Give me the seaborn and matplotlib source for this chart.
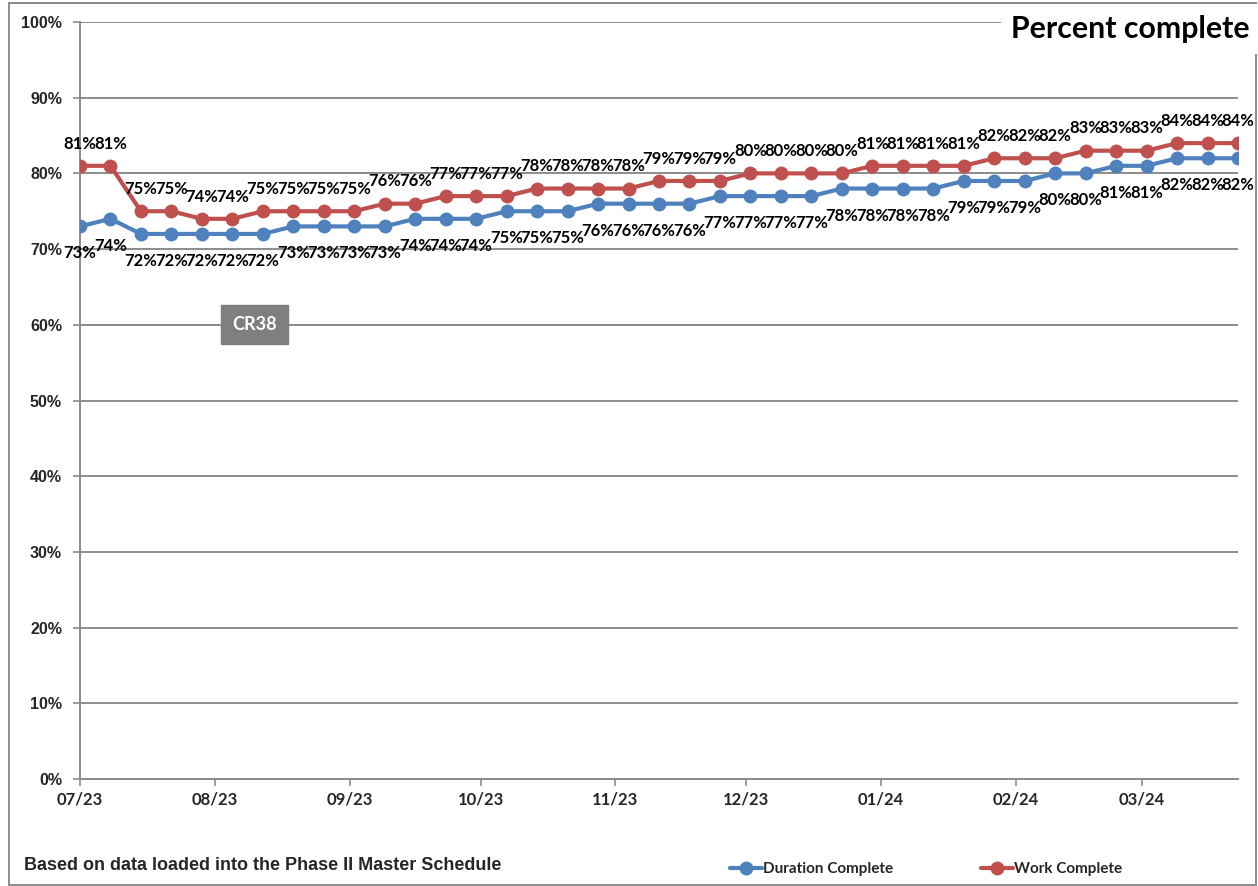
import matplotlib
matplotlib.use("Agg")
import matplotlib.pyplot as plt
import matplotlib.dates as mdates
from matplotlib.patches import Rectangle
from matplotlib.lines import Line2D
import numpy as np
import pandas as pd
import seaborn as sns

# Weekly status snapshots
start_date = "2023-07-01"
n_weeks = 39
duration_complete = [73, 74, 72, 72, 72, 72, 72, 73, 73, 73, 73, 74, 74, 74, 75, 75, 75,
                     76, 76, 76, 76, 77, 77, 77, 77, 78, 78, 78, 78, 79, 79, 79, 80, 80,
                     81, 81, 82, 82, 82]
work_complete = [81, 81, 75, 75, 74, 74, 75, 75, 75, 75, 76, 76, 77, 77, 77, 78, 78, 78,
                 78, 79, 79, 79, 80, 80, 80, 80, 81, 81, 81, 81, 82, 82, 82, 83, 83, 83,
                 84, 84, 84]
series_names = ["Duration Complete", "Work Complete"]
series_colors = ["#4F81BD", "#C0504D"]
y_ticks = [0, 10, 20, 30, 40, 50, 60, 70, 80, 90, 100]

dates = pd.date_range(start_date, periods=n_weeks, freq="7D")
df = pd.DataFrame({
    "date": np.concatenate([dates, dates]),
    "value": duration_complete + work_complete,
    "series": [series_names[0]] * n_weeks + [series_names[1]] * n_weeks,
})

sns.set_theme(style="white")
plt.rcParams["font.family"] = ["Liberation Sans", "DejaVu Sans"]
label_font = "Lato"

fig = plt.figure(figsize=(12.58, 8.86), dpi=100)
ax = fig.add_axes([80 / 1258, 107 / 886, 1158 / 1258, 757 / 886])

sns.lineplot(data=df, x="date", y="value", hue="series", hue_order=series_names,
             palette=series_colors, marker="o", markersize=10, markeredgewidth=0,
             linewidth=3, legend=False, ax=ax, zorder=3)

ax.set_xlim(dates[0], dates[-1])
ax.set_ylim(0, 100)
ax.set_yticks(y_ticks)
ax.set_yticklabels([f"{t}%" for t in y_ticks], fontweight="bold", fontsize=11.5)
ax.yaxis.grid(True, color="#8C8C8C", linewidth=1.4)
ax.xaxis.grid(False)
ax.xaxis.set_major_locator(mdates.MonthLocator())
ax.xaxis.set_major_formatter(mdates.DateFormatter("%m/%y"))
for lbl in ax.get_xticklabels():
    lbl.set_fontfamily(label_font)
    lbl.set_fontweight("bold")
    lbl.set_fontsize(12)
ax.set_xlabel("")
ax.set_ylabel("")
for side in ["top", "right"]:
    ax.spines[side].set_visible(False)
for side in ["left", "bottom"]:
    ax.spines[side].set_color("#8C8C8C")
    ax.spines[side].set_linewidth(1.4)
ax.tick_params(axis="both", which="major", length=5, width=1.2, color="#8C8C8C",
               direction="out", left=True, bottom=True)
ax.tick_params(axis="y", pad=8)
ax.tick_params(axis="x", pad=4)

# Value labels: work above the markers, duration below
for d, v in zip(dates, work_complete):
    ax.annotate(f"{v}%", (d, v), xytext=(0, 16), textcoords="offset points",
                ha="center", va="center", fontsize=12, fontweight="bold",
                family=label_font, color="black", zorder=4)
for d, v in zip(dates, duration_complete):
    ax.annotate(f"{v}%", (d, v), xytext=(0, -19.5), textcoords="offset points",
                ha="center", va="center", fontsize=12, fontweight="bold",
                family=label_font, color="black", zorder=4)

# Change request marker
ax.text(dates[0] + pd.Timedelta(days=40), 60, "CR38", ha="center", va="center",
        fontsize=13, fontweight="bold", family=label_font, color="white", zorder=5,
        bbox=dict(boxstyle="square,pad=0.62", facecolor="#7F7F7F", edgecolor="#7F7F7F"))

# Title box
fig.text(1250 / 1258, 1 - 29 / 886, "Percent complete", ha="right", va="center",
         fontsize=21.8, fontweight="bold", family=label_font, color="black", zorder=6,
         bbox=dict(boxstyle="square,pad=0.35", facecolor="white", edgecolor="none"))

# Footer note
fig.text(24 / 1258, 1 - 865 / 886, "Based on data loaded into the Phase II Master Schedule",
         ha="left", va="center", fontsize=13, fontweight="bold")

# Legend
handles = [Line2D([0], [0], color=c, linewidth=3, marker="o", markersize=10,
                  markeredgewidth=0) for c in series_colors]
leg = fig.legend(handles, series_names, loc="center left",
                 bbox_to_anchor=(716 / 1258, 1 - 869 / 886), ncol=2, frameon=False,
                 handlelength=2.1, handletextpad=0.1, columnspacing=5.7,
                 prop={"family": label_font, "weight": "bold", "size": 11})

# Outer frame
fig.patches.append(Rectangle((9 / 1258, 1 / 886), 1247 / 1258, 882 / 886,
                             transform=fig.transFigure, fill=False,
                             edgecolor="#8C8C8C", linewidth=1.4))

fig.savefig("out.png", dpi=100)
